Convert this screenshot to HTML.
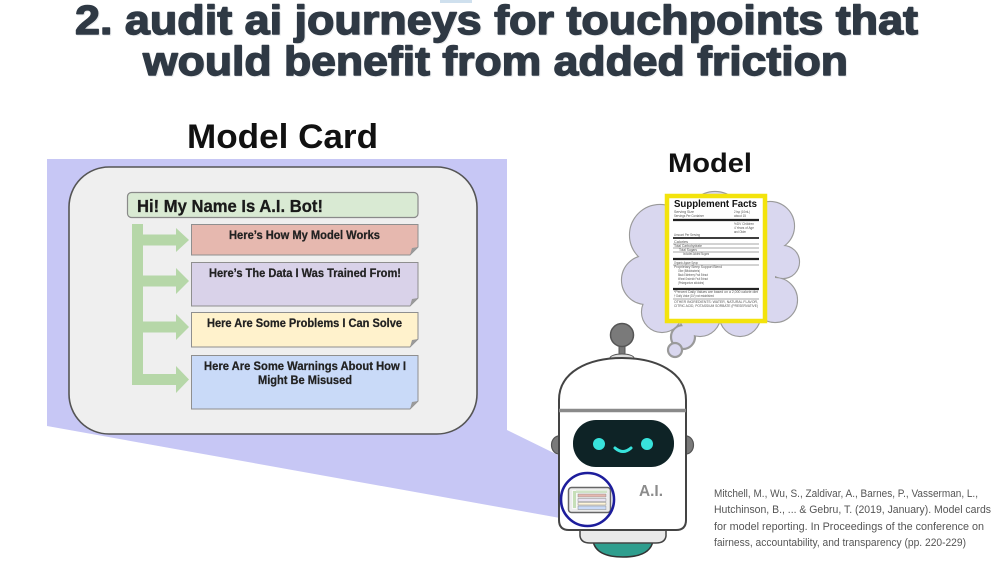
<!DOCTYPE html>
<html>
<head>
<meta charset="utf-8">
<style>
  html, body { margin: 0; padding: 0; background: #ffffff; }
  body { width: 1000px; height: 563px; overflow: hidden; }
  svg { display: block; }
  text { font-family: "Liberation Sans", Arial, sans-serif; }
</style>
</head>
<body>
<svg width="1000" height="563" viewBox="0 0 1000 563" xmlns="http://www.w3.org/2000/svg">
  <rect x="0" y="0" width="1000" height="563" fill="#ffffff"/>
  <rect x="440" y="0" width="32" height="3" fill="#cfe0ee"/>

  <!-- Title -->
  <g font-weight="bold" font-size="41" fill="#d3d6da" stroke="#d3d6da" stroke-width="1.4" stroke-linejoin="round" opacity="0.5">
    <text x="76" y="35" textLength="843" lengthAdjust="spacingAndGlyphs">2. audit ai journeys for touchpoints that</text>
    <text x="144" y="76" textLength="705" lengthAdjust="spacingAndGlyphs">would benefit from added friction</text>
  </g>
  <g font-weight="bold" font-size="41" fill="#2f3944" stroke="#2f3944" stroke-width="1.4" stroke-linejoin="round">
    <text x="75" y="34" textLength="843" lengthAdjust="spacingAndGlyphs">2. audit ai journeys for touchpoints that</text>
    <text x="143" y="75" textLength="705" lengthAdjust="spacingAndGlyphs">would benefit from added friction</text>
  </g>

  <!-- Model Card heading -->
  <text x="187" y="148" font-size="34" font-weight="bold" fill="#111" textLength="191" lengthAdjust="spacingAndGlyphs">Model Card</text>

  <!-- Lavender projection -->
  <polygon points="47,159 507,159 507,430 560,456 560,518 47,426" fill="#c7c7f5"/>

  <!-- Card -->
  <rect x="69" y="167" width="408" height="267" rx="40" ry="40" fill="#efefef" stroke="#555" stroke-width="1.6"/>

  <!-- Header -->
  <rect x="127.5" y="192.5" width="290.5" height="25" rx="4" fill="#d9ead3" stroke="#8a8a8a" stroke-width="1.2"/>
  <text x="137" y="212" font-size="17.5" font-weight="bold" fill="#1a1a1a" stroke="#1a1a1a" stroke-width="0.3" textLength="186" lengthAdjust="spacingAndGlyphs">Hi! My Name Is A.I. Bot!</text>

  <!-- Green arrows -->
  <g fill="#b6d7a8">
    <rect x="132" y="224" width="11" height="161"/>
    <rect x="132" y="234.5" width="46" height="11"/>
    <polygon points="176,228 189,240 176,252"/>
    <rect x="132" y="275.5" width="46" height="11"/>
    <polygon points="176,268 189,281 176,294"/>
    <rect x="132" y="321.5" width="46" height="11"/>
    <polygon points="176,314 189,327 176,340"/>
    <rect x="132" y="374" width="46" height="11"/>
    <polygon points="176,366 189,379.5 176,393"/>
  </g>

  <!-- Boxes -->
  <g stroke="#8f8f8f" stroke-width="1">
    <path d="M191.5,224.5 H418 V247 L410,255 H191.5 Z" fill="#e6b8af"/>
    <path d="M191.5,262.5 H418 V298 L410,306 H191.5 Z" fill="#d9d2e9"/>
    <path d="M191.5,312.5 H418 V339 L410,347 H191.5 Z" fill="#fff2cc"/>
    <path d="M191.5,355.5 H418 V401 L410,409 H191.5 Z" fill="#c9daf8"/>
  </g>
  <g fill="#9a9a9a">
    <polygon points="410,255 412,248 418,247"/>
    <polygon points="410,306 412,299 418,298"/>
    <polygon points="410,347 412,340 418,339"/>
    <polygon points="410,409 412,402 418,401"/>
  </g>
  <g font-size="11.5" font-weight="bold" fill="#222" stroke="#222" stroke-width="0.25">
    <text x="229" y="239" textLength="151" lengthAdjust="spacingAndGlyphs">Here’s How My Model Works</text>
    <text x="209" y="277" textLength="192" lengthAdjust="spacingAndGlyphs">Here’s The Data I Was Trained From!</text>
    <text x="207" y="327" textLength="195" lengthAdjust="spacingAndGlyphs">Here Are Some Problems I Can Solve</text>
    <text x="204" y="370" textLength="202" lengthAdjust="spacingAndGlyphs">Here Are Some Warnings About How I</text>
    <text x="258" y="384" textLength="94" lengthAdjust="spacingAndGlyphs">Might Be Misused</text>
  </g>

  <!-- Model heading -->
  <text x="668" y="172" font-size="27" font-weight="bold" fill="#111" textLength="84" lengthAdjust="spacingAndGlyphs">Model</text>

  <!-- Thought cloud -->
  <g stroke="#9a9a9a" stroke-width="2.2" fill="#d9d7ef">
    <circle cx="660" cy="235" r="30"/>
    <circle cx="646" cy="280" r="24"/>
    <circle cx="662" cy="312" r="20"/>
    <circle cx="700" cy="316" r="20"/>
    <circle cx="740" cy="316" r="20"/>
    <circle cx="775" cy="300" r="22"/>
    <circle cx="783" cy="262" r="16"/>
    <circle cx="770" cy="226" r="24"/>
    <circle cx="715" cy="220" r="28"/>
    <circle cx="683" cy="337" r="12"/>
    <circle cx="675" cy="350" r="7"/>
  </g>
  <g fill="#d9d7ef">
    <circle cx="660" cy="235" r="30"/>
    <circle cx="646" cy="280" r="24"/>
    <circle cx="662" cy="312" r="20"/>
    <circle cx="700" cy="316" r="20"/>
    <circle cx="740" cy="316" r="20"/>
    <circle cx="775" cy="300" r="22"/>
    <circle cx="783" cy="262" r="16"/>
    <circle cx="770" cy="226" r="24"/>
    <circle cx="715" cy="220" r="28"/>
    <rect x="660" y="225" width="115" height="90"/>
  </g>

  <!-- Supplement facts label -->
  <rect x="667" y="196" width="98" height="125" fill="#ffffff" stroke="#f3e30c" stroke-width="4.5"/>
  <text x="674" y="207" font-size="10.5" font-weight="bold" fill="#111" textLength="83" lengthAdjust="spacingAndGlyphs">Supplement Facts</text>
  <g font-size="3.4" fill="#555">
    <text x="674" y="213" textLength="20" lengthAdjust="spacingAndGlyphs">Serving Size</text>
    <text x="734" y="213" textLength="16" lengthAdjust="spacingAndGlyphs">2 tsp (10mL)</text>
    <text x="674" y="217" textLength="30" lengthAdjust="spacingAndGlyphs">Servings Per Container</text>
    <text x="734" y="217" textLength="12" lengthAdjust="spacingAndGlyphs">about 15</text>
    <text x="734" y="225" textLength="20" lengthAdjust="spacingAndGlyphs">%DV Children</text>
    <text x="734" y="229" textLength="20" lengthAdjust="spacingAndGlyphs">4 Years of Age</text>
    <text x="734" y="233" textLength="12" lengthAdjust="spacingAndGlyphs">and Older</text>
    <text x="674" y="236" textLength="26" lengthAdjust="spacingAndGlyphs">Amount Per Serving</text>
    <text x="674" y="243" textLength="14" lengthAdjust="spacingAndGlyphs">Calories</text>
    <text x="674" y="247" textLength="28" lengthAdjust="spacingAndGlyphs">Total Carbohydrate</text>
    <text x="679" y="251" textLength="18" lengthAdjust="spacingAndGlyphs">Total Sugars</text>
    <text x="683" y="255" textLength="26" lengthAdjust="spacingAndGlyphs">Includes Added Sugars</text>
    <text x="674" y="264" textLength="24" lengthAdjust="spacingAndGlyphs">Organic Agave Syrup</text>
    <text x="674" y="268" textLength="48" lengthAdjust="spacingAndGlyphs">Proprietary Sleep Support Blend</text>
    <text x="678" y="272" textLength="22" lengthAdjust="spacingAndGlyphs">Olive (Bifidobacteria)</text>
    <text x="678" y="276" textLength="30" lengthAdjust="spacingAndGlyphs">Black Elderberry Fruit Extract</text>
    <text x="678" y="280" textLength="30" lengthAdjust="spacingAndGlyphs">Wheat Grainrich Fruit Extract</text>
    <text x="678" y="284" textLength="26" lengthAdjust="spacingAndGlyphs">(Pelargonium sidoides)</text>
    <text x="674" y="293" textLength="84" lengthAdjust="spacingAndGlyphs">*Percent Daily Values are based on a 2,000 calorie diet</text>
    <text x="674" y="297" textLength="40" lengthAdjust="spacingAndGlyphs">† Daily Value (DV) not established</text>
    <text x="674" y="303" textLength="84" lengthAdjust="spacingAndGlyphs">OTHER INGREDIENTS: WATER, NATURAL FLAVOR,</text>
    <text x="674" y="307" textLength="84" lengthAdjust="spacingAndGlyphs">CITRIC ACID, POTASSIUM SORBATE (PRESERVATIVE)</text>
  </g>
  <g stroke="#222">
    <line x1="673" y1="220" x2="759" y2="220" stroke-width="2.2"/>
    <line x1="673" y1="238" x2="759" y2="238" stroke-width="1.8"/>
    <line x1="673" y1="244" x2="759" y2="244" stroke-width="0.4"/>
    <line x1="673" y1="248" x2="759" y2="248" stroke-width="0.4"/>
    <line x1="673" y1="252" x2="759" y2="252" stroke-width="0.4"/>
    <line x1="673" y1="259" x2="759" y2="259" stroke-width="2.2"/>
    <line x1="673" y1="265" x2="759" y2="265" stroke-width="0.4"/>
    <line x1="673" y1="289" x2="759" y2="289" stroke-width="2.2"/>
    <line x1="673" y1="299" x2="759" y2="299" stroke-width="0.4"/>
  </g>

  <!-- Robot -->
  <rect x="619" y="344" width="6" height="12" fill="#777" stroke="#555" stroke-width="1"/>
  <ellipse cx="622" cy="358" rx="12" ry="4" fill="#dcdcdc" stroke="#555" stroke-width="1"/>
  <circle cx="622" cy="335" r="11.5" fill="#7a7a7a" stroke="#555" stroke-width="1.5"/>
  <ellipse cx="559" cy="445" rx="7.5" ry="9" fill="#7a7a7a" stroke="#555" stroke-width="1.2"/>
  <ellipse cx="686" cy="445" rx="7.5" ry="9" fill="#7a7a7a" stroke="#555" stroke-width="1.2"/>
  <path d="M593,541 Q596,557 623,557 Q650,557 653,541 Z" fill="#2f9e8e" stroke="#333" stroke-width="1.5"/>
  <path d="M580,528 L580,536 Q581,543 590,543 L656,543 Q665,543 666,536 L666,528 Z" fill="#e9e9e9" stroke="#444" stroke-width="1.5"/>
  <path d="M559,410 L559,400 C559,372 588,358 622,358 C656,358 686,372 686,400 L686,410 Z" fill="#ffffff" stroke="#444" stroke-width="2"/>
  <path d="M559,410 L559,520 Q559,530 569,530 L676,530 Q686,530 686,520 L686,410 Z" fill="#ffffff" stroke="#444" stroke-width="2"/>
  <line x1="559" y1="410.5" x2="686" y2="410.5" stroke="#8a8a8a" stroke-width="3.5"/>
  <rect x="573" y="420" width="101" height="47" rx="23" ry="23" fill="#0e2326"/>
  <circle cx="599" cy="444" r="6" fill="#38e3dc"/>
  <circle cx="647" cy="444" r="6" fill="#38e3dc"/>
  <path d="M615,448 Q623,455 631,448" fill="none" stroke="#38e3dc" stroke-width="3" stroke-linecap="round"/>
  <text x="639" y="496" font-size="15.5" font-weight="bold" fill="#8c8c8c" textLength="24" lengthAdjust="spacingAndGlyphs">A.I.</text>
  <rect x="568.5" y="487.5" width="42" height="25" rx="3" fill="#ededed" stroke="#666" stroke-width="1.5"/>
  <rect x="572" y="490" width="35" height="19" fill="#f8f8f8"/>
  <rect x="573" y="491" width="3" height="17" fill="#c6dfb8"/>
  <rect x="576" y="490.5" width="31" height="2.5" fill="#cfe3c6"/>
  <rect x="578" y="494" width="28" height="3" fill="#e6b8af" stroke="#888" stroke-width="0.5"/>
  <rect x="578" y="498.5" width="28" height="3" fill="#e8e3f2" stroke="#888" stroke-width="0.5"/>
  <rect x="578" y="502.5" width="28" height="2.5" fill="#fff6d8" stroke="#888" stroke-width="0.5"/>
  <rect x="578" y="506" width="28" height="3.5" fill="#c9daf8" stroke="#888" stroke-width="0.5"/>
  <circle cx="587.5" cy="499.5" r="26.5" fill="none" stroke="#1d1d9c" stroke-width="2.6"/>

  <!-- Citation -->
  <g font-size="11.2" fill="#555">
    <text x="714" y="497" textLength="264" lengthAdjust="spacingAndGlyphs">Mitchell, M., Wu, S., Zaldivar, A., Barnes, P., Vasserman, L.,</text>
    <text x="714" y="513" textLength="277" lengthAdjust="spacingAndGlyphs">Hutchinson, B., ... &amp; Gebru, T. (2019, January). Model cards</text>
    <text x="714" y="530" textLength="270" lengthAdjust="spacingAndGlyphs">for model reporting. In Proceedings of the conference on</text>
    <text x="714" y="546" textLength="252" lengthAdjust="spacingAndGlyphs">fairness, accountability, and transparency (pp. 220-229)</text>
  </g>
</svg>
</body>
</html>
